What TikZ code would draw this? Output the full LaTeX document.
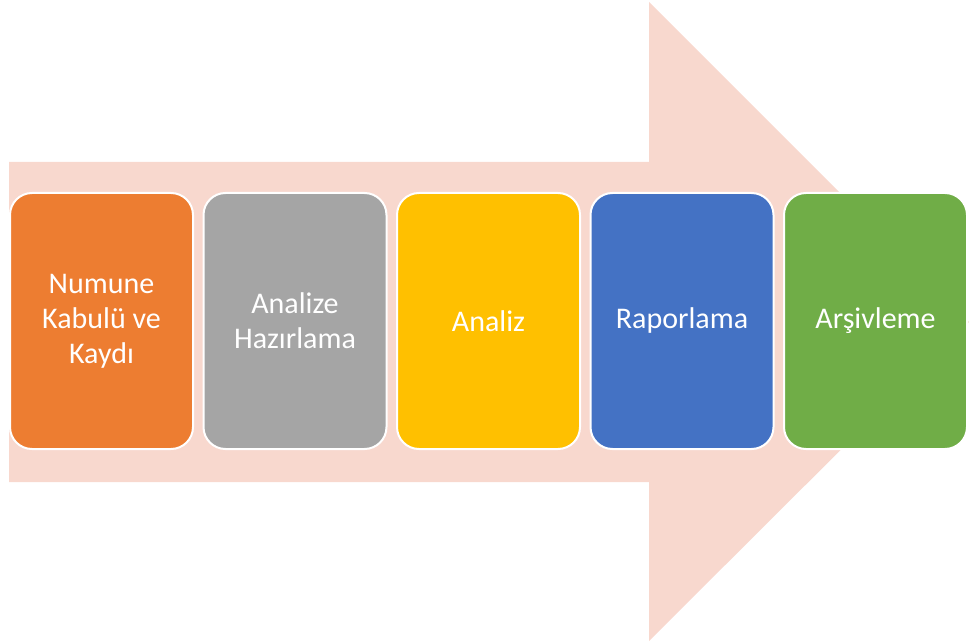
\documentclass[tikz,border=0pt]{standalone}
\usepackage{fontspec}
\setmainfont{Carlito}
\usepackage{tikz}
\usetikzlibrary{positioning}

\definecolor{arrowpink}{HTML}{F8D8CE}
\definecolor{stepOrange}{HTML}{ED7D31}
\definecolor{stepGrey}{HTML}{A5A5A5}
\definecolor{stepYellow}{HTML}{FFC000}
\definecolor{stepBlue}{HTML}{4472C4}
\definecolor{stepGreen}{HTML}{70AD47}

\begin{document}
\begin{tikzpicture}[x=1pt,y=-1pt,
    stepbox/.style={draw=white,line width=2pt,rounded corners=22pt,minimum width=183pt,minimum height=256pt,
      inner sep=0pt,outer sep=0pt,align=center,text=white,font=\fontsize{30}{35}\selectfont}]
      \useasboundingbox (0,0) rectangle (969,644);
      \fill[arrowpink] (9,162)--(649,162)--(649,2)--(969,322)--(649,641)--(649,482)--(9,482)--cycle;
      \node[stepbox,fill=stepOrange] (kabul) at (101.5,321) {Numune\\Kabulü ve\\Kaydı};
      \node[stepbox,fill=stepGrey,right=10.5pt of kabul] (hazirlik) {Analize\\Hazırlama};
      \node[stepbox,fill=stepYellow,right=10.5pt of hazirlik] (analiz) {Analiz};
      \node[stepbox,fill=stepBlue,right=10.5pt of analiz] (rapor) {Raporlama};
      \node[stepbox,fill=stepGreen,right=10.5pt of rapor] (arsiv) {Arşivleme};
    \end{tikzpicture}
\end{document}
